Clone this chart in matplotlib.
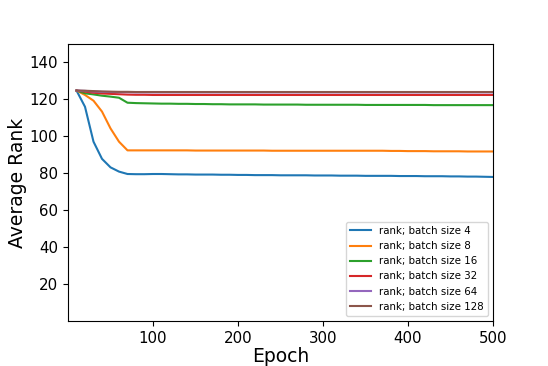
import matplotlib
matplotlib.use("Agg")
import matplotlib.pyplot as plt

epochs = list(range(10, 501, 10))

bs4 = [124.8, 116.0, 97.1, 87.8, 83.2, 80.9, 79.6, 79.5, 79.5, 79.6,
       79.6, 79.5, 79.4, 79.4, 79.3, 79.3, 79.3, 79.2, 79.2, 79.1,
       79.1, 79.0, 79.0, 79.0, 78.9, 78.9, 78.9, 78.9, 78.8, 78.8,
       78.8, 78.7, 78.7, 78.7, 78.6, 78.6, 78.6, 78.6, 78.5, 78.5,
       78.5, 78.4, 78.4, 78.4, 78.3, 78.3, 78.2, 78.2, 78.1, 78.0]
bs8 = [124.8, 122.4, 119.3, 113.4, 104.3, 97.1, 92.4, 92.4, 92.4, 92.4,
       92.4, 92.4, 92.4, 92.4, 92.3, 92.3, 92.3, 92.3, 92.3, 92.3,
       92.3, 92.3, 92.3, 92.2, 92.2, 92.2, 92.2, 92.2, 92.2, 92.2,
       92.2, 92.2, 92.2, 92.2, 92.2, 92.2, 92.2, 92.1, 92.1, 92.0,
       92.0, 92.0, 91.9, 91.9, 91.9, 91.9, 91.8, 91.8, 91.8, 91.8]
bs16 = [124.8, 123.3, 122.7, 122.0, 121.5, 120.9, 118.2, 118.0, 117.9, 117.8,
        117.7, 117.7, 117.6, 117.6, 117.5, 117.5, 117.4, 117.4, 117.3, 117.3,
        117.3, 117.3, 117.2, 117.2, 117.2, 117.2, 117.2, 117.1, 117.1, 117.1,
        117.1, 117.1, 117.1, 117.1, 117.0, 117.0, 117.0, 117.0, 117.0, 117.0,
        117.0, 117.0, 116.9, 116.9, 116.9, 116.9, 116.9, 116.9, 116.9, 116.9]
bs32 = [124.8, 124.2, 123.6, 123.2, 123.0, 122.8, 122.6, 122.5, 122.5, 122.4,
        122.4, 122.4, 122.4, 122.4, 122.4, 122.4, 122.4, 122.4, 122.4, 122.4,
        122.4, 122.4, 122.4, 122.4, 122.4, 122.4, 122.4, 122.4, 122.4, 122.4,
        122.4, 122.4, 122.4, 122.4, 122.4, 122.4, 122.4, 122.4, 122.4, 122.4,
        122.4, 122.4, 122.4, 122.4, 122.4, 122.4, 122.4, 122.4, 122.4, 122.4]
bs64 = [124.8, 124.6, 124.3, 124.1, 124.0, 123.9, 123.9, 123.8, 123.8, 123.8,
        123.8, 123.8, 123.8, 123.8, 123.8, 123.8, 123.8, 123.8, 123.8, 123.8,
        123.8, 123.8, 123.8, 123.8, 123.8, 123.8, 123.8, 123.8, 123.8, 123.8,
        123.8, 123.8, 123.8, 123.8, 123.8, 123.8, 123.8, 123.8, 123.8, 123.8,
        123.8, 123.8, 123.8, 123.8, 123.8, 123.8, 123.8, 123.8, 123.8, 123.8]
bs128 = [124.8, 124.7, 124.5, 124.3, 124.2, 124.1, 124.1, 124.0, 124.0, 124.0,
         124.0, 124.0, 124.0, 124.0, 124.0, 124.0, 124.0, 124.0, 124.0, 124.0,
         124.0, 124.0, 124.0, 124.0, 124.0, 124.0, 124.0, 124.0, 124.0, 124.0,
         124.0, 124.0, 124.0, 124.0, 124.0, 124.0, 124.0, 124.0, 124.0, 124.0,
         124.0, 124.0, 124.0, 124.0, 124.0, 124.0, 124.0, 124.0, 124.0, 124.0]

series = [bs4, bs8, bs16, bs32, bs64, bs128]
labels = ["rank; batch size 4", "rank; batch size 8", "rank; batch size 16",
          "rank; batch size 32", "rank; batch size 64", "rank; batch size 128"]
xticks = [100, 200, 300, 400, 500]
yticks = [20, 40, 60, 80, 100, 120, 140]

fig = plt.figure(figsize=(5.48, 3.66), dpi=100)
ax = fig.add_axes([68 / 548, 45 / 366, (493 - 68) / 548, (321 - 44) / 366])
for s, lab in zip(series, labels):
    ax.plot(epochs, s, label=lab, linewidth=1.5)
ax.set_xlim(0, 500)
ax.set_ylim(0, 150)
ax.set_xticks(xticks)
ax.set_yticks(yticks)
ax.tick_params(labelsize=10.8)
ax.set_xlabel("Epoch", fontsize=13.5, labelpad=1)
ax.set_ylabel("Average Rank", fontsize=13.5, labelpad=2)
ax.legend(loc="lower right", fontsize=7.4)
fig.savefig("out.png", dpi=100)
